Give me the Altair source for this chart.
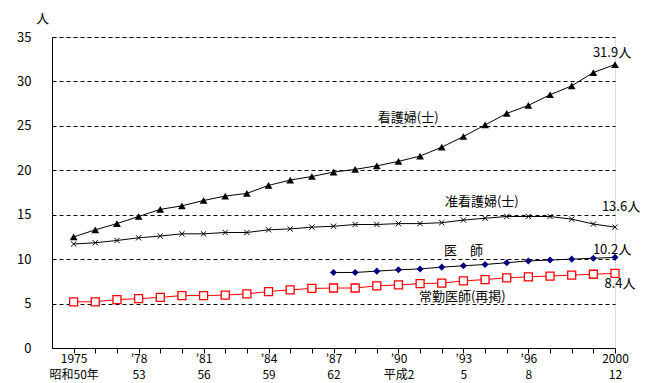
import altair as alt
import pandas as pd

years = list(range(1975, 2001))
nurse = [12.5, 13.3, 14.0, 14.8, 15.6, 16.0, 16.6, 17.1, 17.4, 18.3, 18.9, 19.3, 19.8,
         20.1, 20.5, 21.0, 21.6, 22.6, 23.8, 25.1, 26.4, 27.3, 28.5, 29.5, 31.0, 31.9]
assoc = [11.7, 11.85, 12.1, 12.4, 12.6, 12.85, 12.85, 13.0, 13.0, 13.3, 13.4, 13.6, 13.7,
         13.9, 13.9, 14.0, 14.0, 14.1, 14.4, 14.6, 14.8, 14.8, 14.8, 14.5, 13.95, 13.6]
doctor_years = list(range(1987, 2001))
doctor = [8.5, 8.5, 8.65, 8.8, 8.9, 9.1, 9.25, 9.4, 9.6, 9.8, 9.9, 10.0, 10.1, 10.2]
fulltime = [5.2, 5.2, 5.45, 5.55, 5.7, 5.9, 5.9, 5.95, 6.1, 6.35, 6.55, 6.7, 6.75,
            6.75, 7.0, 7.1, 7.25, 7.3, 7.55, 7.7, 7.9, 8.0, 8.1, 8.2, 8.3, 8.4]

label_years = [1975, 1978, 1981, 1984, 1987, 1990, 1993, 1996, 2000]
label_top = ["1975", "’78", "’81", "’84", "’87", "’90", "’93", "’96", "2000"]
label_bottom = ["昭和50年", "53", "56", "59", "62", "平成2", "5", "8", "12"]

ann_text = ["看護婦(士)", "准看護婦(士)", "医　師", "常勤医師(再掲)",
            "31.9人", "13.6人", "10.2人", "8.4人"]
ann_x = [1990.45, 1993.85, 1993.0, 1992.95, 2000, 2000, 2000, 2000]
ann_y = [25.9, 16.4, 10.9, 5.75, 31.9, 13.6, 10.2, 8.4]
ann_dx = [0, 0, 0, 0, -3, 6, -3, 5]
ann_dy = [0, 0, 0, 0, -12, -20, -7, 11]

FONT = "Noto Sans CJK JP"

df_n = pd.DataFrame({"year": years, "v": nurse})
df_a = pd.DataFrame({"year": years, "v": assoc})
df_d = pd.DataFrame({"year": doctor_years, "v": doctor})
df_f = pd.DataFrame({"year": years, "v": fulltime})

expr = "''"
for yv, t, b in reversed(list(zip(label_years, label_top, label_bottom))):
    expr = f"datum.value == {yv} ? ['{t}', '{b}'] : ({expr})"

xscale = alt.Scale(domain=[1974, 2000], nice=False, zero=False)
yscale = alt.Scale(domain=[0, 35], nice=False)

xaxis = alt.Axis(values=years, labelExpr=expr, tickSize=5, tickColor="black",
                 domainColor="black", labelColor="black", labelFont=FONT,
                 labelFontSize=12, labelPadding=0, labelLineHeight=16,
                 labelBaseline="top", labelOverlap=False, labelFlush=False,
                 labelBound=False, grid=False, title=None)
yaxis = alt.Axis(values=[0, 5, 10, 15, 20, 25, 30, 35], tickSize=0, labelPadding=21,
                 domainColor="black", labelColor="black", labelFont=FONT,
                 labelFontSize=13, grid=True, gridColor="black", gridDash=[4, 3],
                 gridWidth=1, title="人", titleAngle=0, titleX=-10, titleY=-19,
                 titleAlign="center", titleBaseline="middle", titleFont=FONT,
                 titleFontSize=13, titleFontWeight="normal", titleColor="black")

X = alt.X("year:Q", scale=xscale, axis=xaxis)
Y = alt.Y("v:Q", scale=yscale, axis=yaxis)

base = alt.Chart(df_n).mark_line(color="black", strokeWidth=1).encode(x=X, y=Y)
n_pts = alt.Chart(df_n).mark_point(shape="triangle-up", filled=True, color="black",
                                   size=60, opacity=1).encode(x=X, y=Y)
a_line = alt.Chart(df_a).mark_line(color="black", strokeWidth=1).encode(x=X, y=Y)
a_pts = alt.Chart(df_a).mark_point(shape="M-1,-1L1,1M-1,1L1,-1", filled=False,
                                   color="black", size=28, strokeWidth=1,
                                   opacity=1).encode(x=X, y=Y)
f_line = alt.Chart(df_f).mark_line(color="#ff0000", strokeWidth=1).encode(x=X, y=Y)
f_pts = alt.Chart(df_f).mark_point(shape="square", filled=True, fill="white",
                                   stroke="#ff0000", strokeWidth=1.3, size=64,
                                   opacity=1).encode(x=X, y=Y)
d_line = alt.Chart(df_d).mark_line(color="black", strokeWidth=1).encode(x=X, y=Y)
d_pts = alt.Chart(df_d).mark_point(shape="diamond", filled=True, color="#000080",
                                   size=50, opacity=1).encode(x=X, y=Y)

ann_layers = []
for t, x, y, dx, dy in zip(ann_text, ann_x, ann_y, ann_dx, ann_dy):
    d = pd.DataFrame({"year": [x], "v": [y], "t": [t]})
    ann_layers.append(
        alt.Chart(d).mark_text(font=FONT, fontSize=13, color="black", dx=dx, dy=dy,
                               align="center", baseline="middle")
        .encode(x=X, y=Y, text="t:N"))

chart = alt.layer(base, a_line, f_line, d_line, n_pts, a_pts, f_pts, d_pts,
                  *ann_layers).properties(
    width=563, height=311,
    padding={"left": 44, "top": 29, "right": 28, "bottom": 38},
    autosize=alt.AutoSizeParams(type="none"),
).configure_view(stroke=None).configure_axisX(labelOverlap=False).configure(
    background="white")

chart.save("out.html", embed_options={"renderer": "svg", "actions": False})
